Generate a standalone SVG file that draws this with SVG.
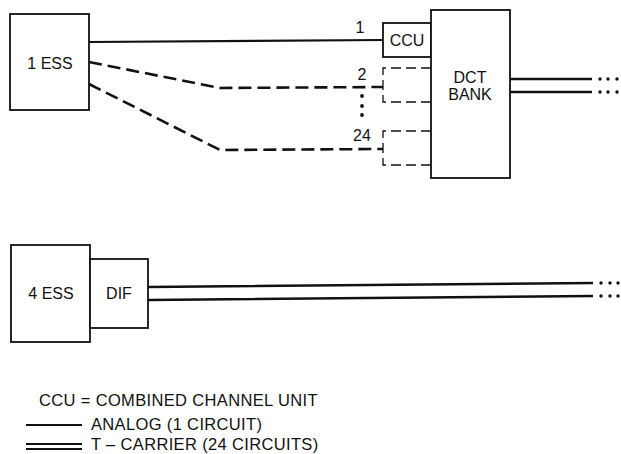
<svg xmlns="http://www.w3.org/2000/svg" width="621" height="454" viewBox="0 0 621 454">
<style>
.box{fill:#fff;stroke:#111;stroke-width:1.8}
.t{font-family:"Liberation Sans",Arial,sans-serif;font-size:16px;fill:#111}
.lg{font-size:16.5px;letter-spacing:0.35px}
.solid{fill:none;stroke:#111;stroke-width:2.2}
.dash{fill:none;stroke:#111;stroke-width:2.6;stroke-dasharray:13 6}
.thin{fill:none;stroke:#111;stroke-width:1.3;stroke-dasharray:10 5}
.dbl{fill:none;stroke:#111;stroke-width:2.6}
.dot{fill:#111}
</style>
<rect width="621" height="454" fill="#fff"/>
<g id="connectors">
  <path class="solid" d="M89 42 L383 40"/>
  <path class="dash" d="M89 62 L220 88 L383 87"/>
  <path class="dash" d="M89 84 L220 150 L383 149"/>
  <path class="thin" d="M431 68 L383 68 L383 102 L431 102"/>
  <path class="thin" d="M431 131 L383 131 L383 165 L431 165"/>
  <path class="dbl" d="M510 79 L592 79 M510 92 L592 92"/>
  <path class="dbl" d="M148 287 L593 283 M148 300 L593 296"/>
  <g class="dot">
    <circle cx="362" cy="96" r="1.9"/><circle cx="362" cy="106" r="1.9"/><circle cx="362" cy="115" r="1.9"/>
    <circle cx="600" cy="79" r="1.7"/><circle cx="608" cy="79" r="1.7"/><circle cx="617" cy="79" r="1.7"/>
    <circle cx="600" cy="92" r="1.7"/><circle cx="608" cy="92" r="1.7"/><circle cx="617" cy="92" r="1.7"/>
    <circle cx="601" cy="283" r="1.7"/><circle cx="610" cy="283" r="1.7"/><circle cx="618" cy="283" r="1.7"/>
    <circle cx="601" cy="296" r="1.7"/><circle cx="610" cy="296" r="1.7"/><circle cx="618" cy="296" r="1.7"/>
  </g>
  <text class="t" x="360" y="33" text-anchor="middle">1</text>
  <text class="t" x="362" y="80" text-anchor="middle">2</text>
  <text class="t" x="362" y="141" text-anchor="middle">24</text>
</g>
<g id="ess1">
  <rect class="box" x="10" y="14" width="79" height="96"/>
  <text class="t" x="50" y="69" text-anchor="middle">1 ESS</text>
</g>
<g id="ccu">
  <rect class="box" x="383" y="23" width="48" height="34"/>
  <text class="t" x="407" y="46" text-anchor="middle">CCU</text>
</g>
<g id="dct">
  <rect class="box" x="431" y="10" width="79" height="168"/>
  <text class="t" x="470" y="83" text-anchor="middle">DCT</text>
  <text class="t" x="470" y="100" text-anchor="middle">BANK</text>
</g>
<g id="ess4">
  <rect class="box" x="11" y="245" width="79" height="97"/>
  <text class="t" x="51" y="299" text-anchor="middle">4 ESS</text>
</g>
<g id="dif">
  <rect class="box" x="90" y="259" width="58" height="69"/>
  <text class="t" x="119" y="299" text-anchor="middle">DIF</text>
</g>
<g id="legend">
  <text class="t lg" x="39" y="406">CCU = COMBINED CHANNEL UNIT</text>
  <path class="solid" d="M26 425 L82 425"/>
  <text class="t lg" x="91" y="430">ANALOG (1 CIRCUIT)</text>
  <path class="solid" d="M26 444 L82 444 M26 449 L82 449"/>
  <text class="t lg" x="91" y="450">T – CARRIER (24 CIRCUITS)</text>
</g>
</svg>
